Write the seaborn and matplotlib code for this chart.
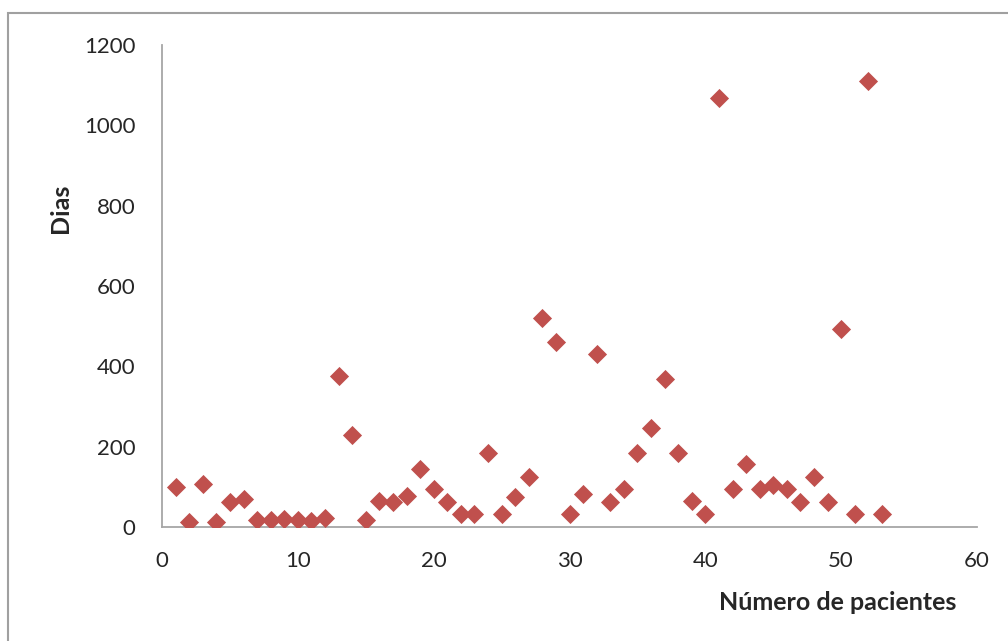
import matplotlib
matplotlib.use("Agg")
import matplotlib.pyplot as plt
from matplotlib.patches import Rectangle
import seaborn as sns
import pandas as pd

# Patient index and days for each patient
pacientes = list(range(1, 54))
dias = [100, 12, 107, 12, 62, 70, 17, 17, 20, 17,
        15, 22, 376, 229, 17, 65, 62, 77, 144, 95,
        62, 32, 32, 184, 32, 75, 124, 520, 460, 32,
        82, 430, 62, 95, 184, 246, 368, 184, 65, 32,
        1068, 95, 157, 95, 105, 95, 62, 124, 62, 493,
        32, 1110, 32]

x_ticks = [0, 10, 20, 30, 40, 50, 60]
y_ticks = [0, 200, 400, 600, 800, 1000, 1200]

df = pd.DataFrame({"paciente": pacientes, "dias": dias})

sns.set_theme(style="white")
plt.rcParams["font.family"] = ["Lato", "DejaVu Sans"]

text_color = "#262626"
axis_color = "#a6a6a6"

fig = plt.figure(figsize=(10.08, 6.41), dpi=100)
ax = fig.add_axes([162 / 1008, 1 - 527 / 641, (977 - 162) / 1008, (527 - 45) / 641])

sns.scatterplot(data=df, x="paciente", y="dias", marker="D", s=95,
                color="#C0504D", linewidth=0, ax=ax, zorder=3)

ax.set_xlim(0, 60)
ax.set_ylim(0, 1200)
ax.set_xticks(x_ticks)
ax.set_yticks(y_ticks)
ax.tick_params(axis="both", length=0, labelsize=16, colors=text_color)
ax.tick_params(axis="x", pad=17)
ax.tick_params(axis="y", pad=19)

for side in ["top", "right"]:
    ax.spines[side].set_visible(False)
for side in ["left", "bottom"]:
    ax.spines[side].set_color(axis_color)
    ax.spines[side].set_linewidth(1.3)

ax.set_xlabel("")
ax.set_ylabel("")
fig.text(61 / 1008, 1 - 208 / 641, "Dias", rotation=90, ha="center", va="center",
         fontsize=18, fontweight="bold", color=text_color)
fig.text(838 / 1008, 1 - 603 / 641, "Número de pacientes", ha="center", va="center",
         fontsize=18, fontweight="bold", color=text_color)

# Chart-area frame
fig.patches.append(Rectangle((8 / 1008, -0.1), 1.2, 1.1 - 13 / 641,
                             transform=fig.transFigure, fill=False,
                             edgecolor="#a0a0a0", linewidth=1.5))

fig.savefig("out.png", dpi=100)
